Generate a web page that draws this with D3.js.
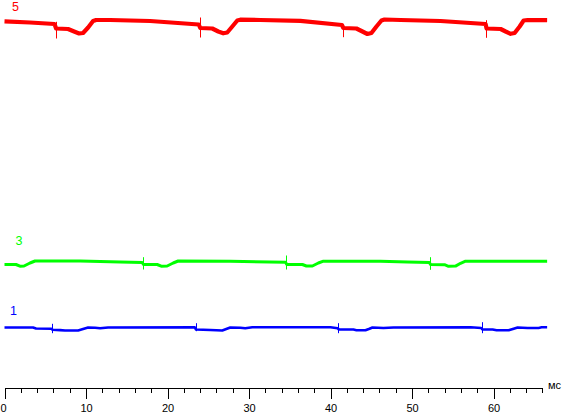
<!DOCTYPE html>
<html>
<head>
<meta charset="utf-8">
<script src="https://cdn.jsdelivr.net/npm/d3@7"></script>
<style>
    body { margin: 0; background: #fff; }
    svg { display: block; font-family: "Liberation Sans", Arial, sans-serif; }
</style>
</head>
<body>
<script>
// time in ms, level in screen divisions (0 at the axis)
const trace5 = [
    [0, 366.2], [3.13, 365], [6.14, 363.5],
    [6.33, 359], [7.80, 358.5], [8.54, 356], [9.15, 354], [9.64, 354.5], [10.26, 360], [10.87, 366.5], [11.24, 367.5], [12.96, 367.5], [17.87, 366.5], [23.83, 363],
    [24.02, 359.5], [25.49, 359], [26.23, 356], [26.84, 354.2], [27.33, 355], [27.95, 361], [28.56, 367], [28.93, 367.8], [31.39, 367.5], [36.30, 366.7], [41.40, 362.5],
    [41.58, 359.5], [43.18, 359], [43.92, 356], [44.53, 353.5], [45.02, 354.5], [45.64, 361], [46.25, 367], [46.62, 368], [48.59, 367.5], [53.50, 366.5], [59.03, 363.5],
    [59.15, 359], [60.87, 358.5], [61.49, 356], [62.10, 353.7], [62.59, 354.5], [63.21, 361], [63.70, 367], [64.19, 367.5], [66.58, 367.3]
]

const trace3 = [
    [0, 123], [1.41, 123], [1.90, 121.3], [2.40, 121.5], [3.13, 124.5], [3.75, 126.5], [9.28, 126.5], [14.19, 125.5], [16.89, 125],
    [17.05, 123], [18.73, 123], [19.23, 121.3], [19.96, 121.5], [20.70, 124.5], [21.31, 126.5], [27.70, 126.3], [34.48, 125.2],
    [34.64, 123], [36.55, 123], [37.04, 121.5], [37.78, 121.5], [38.51, 124.5], [39.13, 126.3], [46.13, 126.3], [49.45, 125.5], [52.13, 125],
    [52.27, 123], [53.99, 122.8], [54.48, 121.2], [55.34, 121.4], [55.96, 124.2], [56.57, 126.3], [66.58, 126.3]
]

const trace1 = [
    [0, 60], [3.50, 60], [3.87, 59], [5.75, 58.8],
    [5.90, 57.7], [6.82, 57.4], [7.43, 57], [9.03, 57], [9.64, 58.5], [10.26, 60], [11.12, 59.7], [11.73, 59.2], [12.71, 60], [23.35, 60.2],
    [23.50, 58], [25.25, 57.5], [26.72, 57], [27.21, 58.5], [27.70, 60], [28.93, 59.8], [29.54, 59.2], [30.41, 60.2], [39.99, 60.2], [40.88, 59.2],
    [41.03, 58], [42.81, 58], [43.18, 57.2], [44.29, 57.2], [44.78, 58.7], [45.15, 60], [46.50, 59.5], [47.73, 60], [57.19, 60.2], [58.49, 59.5],
    [58.64, 58], [59.89, 58], [60.38, 57.2], [61.86, 57.2], [62.47, 58.8], [62.96, 60], [64.19, 59.5], [65.54, 59.5], [65.91, 60.2], [66.58, 60.2]
]

// sync spikes: [time, top, bottom]
const spikes5 = [[6.27, 365.7, 349], [23.96, 370, 350], [41.52, 362, 350.3], [59.09, 367.3, 349.7]]
const spikes3 = [[16.99, 130.3, 118], [34.58, 132, 118], [52.21, 130.3, 117.7]]
const spikes1 = [[5.84, 63.7, 54.3], [23.44, 64.3, 56.3], [40.97, 64.3, 54.3], [58.58, 65.3, 54.3]]

const channelNames = ["5", "3", "1"]
const majorTicks = [0, 10, 20, 30, 40, 50, 60]
const minorTicks = [0, 2, 4, 6, 8, 10, 12, 14, 16, 18, 20, 22, 24, 26, 28, 30, 32, 34,
    36, 38, 40, 42, 44, 46, 48, 50, 52, 54, 56, 58, 60, 62, 64, 66]
const unitLabel = "мс"

const WIDTH = 569
const HEIGHT = 413
const AXIS_Y = 387.5

const channels = [
    { name: channelNames[0], data: trace5, spikes: spikes5, colour: "#ff0000", width: 4.2, label: [12, 11] },
    { name: channelNames[1], data: trace3, spikes: spikes3, colour: "#00ff00", width: 3, label: [15.5, 245] },
    { name: channelNames[2], data: trace1, spikes: spikes1, colour: "#0000ff", width: 2.6, label: [10, 315] }
]

const svg = d3
    .select("body")
    .append("svg")
    .attr("width", WIDTH)
    .attr("height", HEIGHT)

const x = d3.scaleLinear()
    .domain([0, 66])
    .range([4.5, 542.4])

const y = d3.scaleLinear()
    .domain([0, 380])
    .range([AXIS_Y, AXIS_Y - 380])

const line = d3.line()
    .x(d => x(d[0]))
    .y(d => y(d[1]))

channels.forEach(ch => {
    svg.append("path")
        .datum(ch.data)
        .attr("d", line)
        .attr("fill", "none")
        .attr("stroke", ch.colour)
        .attr("stroke-width", ch.width)
        .attr("stroke-linejoin", "round")

    svg.selectAll(null)
        .data(ch.spikes)
        .enter()
        .append("line")
        .attr("x1", d => Math.round(x(d[0])) + 0.5)
        .attr("x2", d => Math.round(x(d[0])) + 0.5)
        .attr("y1", d => y(d[1]))
        .attr("y2", d => y(d[2]))
        .attr("stroke", ch.colour)
        .attr("stroke-width", 1)

    svg.append("text")
        .attr("x", ch.label[0])
        .attr("y", ch.label[1])
        .attr("fill", ch.colour)
        .attr("font-size", "12.5px")
        .text(ch.name)
})

// minor ticks
svg.append("g")
    .attr("transform", `translate(0,${AXIS_Y})`)
    .call(d3.axisBottom(x).tickValues(minorTicks).tickSize(5).tickSizeOuter(0).tickFormat(""))
    .call(g => g.select(".domain").remove())

const axis = svg.append("g")
    .attr("transform", `translate(0,${AXIS_Y})`)
    .call(d3.axisBottom(x)
        .tickValues(majorTicks)
        .tickSize(11)
        .tickSizeOuter(0)
        .tickPadding(5.8)
        .tickFormat(d3.format("d")))

svg.selectAll(".tick line, .domain")
    .attr("stroke", "#000")
    .attr("shape-rendering", "crispEdges")

axis.selectAll("text")
    .attr("font-size", "11px")
    .attr("font-family", "\"Liberation Sans\", Arial, sans-serif")
    .attr("fill", "#000")

axis.selectAll(".tick")
    .filter(d => d === 0)
    .select("text")
    .attr("x", -1.5)

svg.append("text")
    .attr("x", 548)
    .attr("y", AXIS_Y + 1.5)
    .attr("font-size", "11px")
    .attr("fill", "#000")
    .text(unitLabel)
</script>
</body>
</html>
